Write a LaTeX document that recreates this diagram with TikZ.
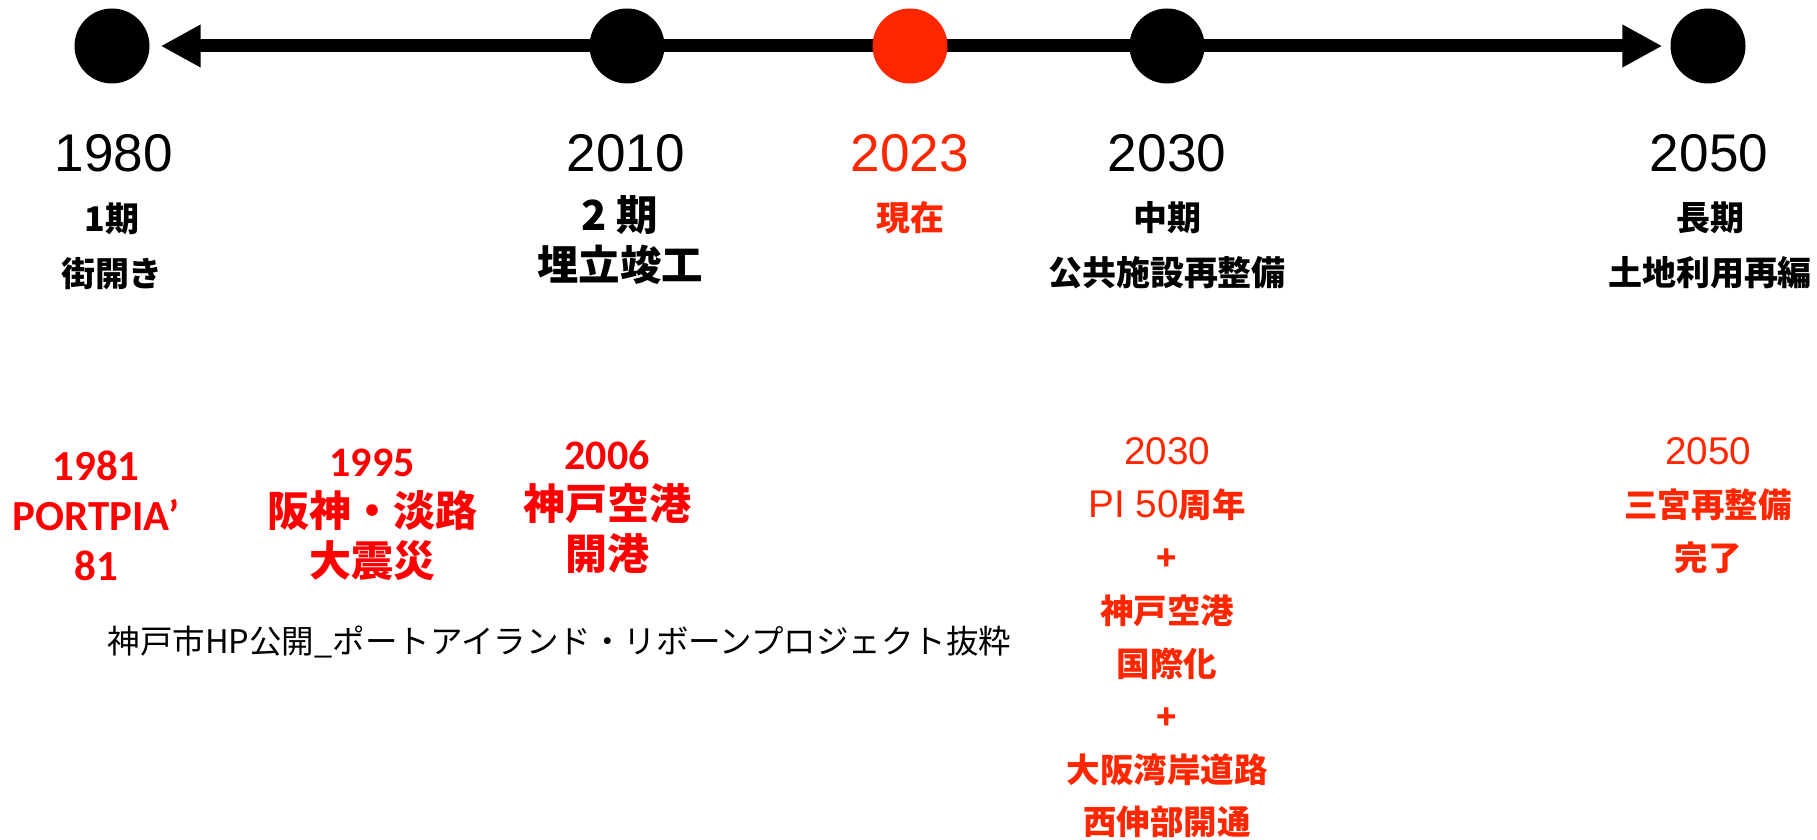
\documentclass[tikz,border=0pt]{standalone}
\usepackage{fontspec}
\setmainfont{Noto Sans CJK JP}
\newfontfamily\yearfont{Liberation Sans}
\newfontfamily\eventfont{Carlito}
\usetikzlibrary{arrows.meta}
\usetikzlibrary{backgrounds}
\definecolor{nowred}{RGB}{255,38,0}
\definecolor{eventred}{RGB}{255,0,0}
\newcommand{\dotsize}{7.5mm}

\begin{document}
\begin{tikzpicture}[x=0.1mm,y=-0.1mm]
    \useasboundingbox (0,0) rectangle (1817,840);

    \begin{scope}[every node/.style={circle,fill=black,minimum size=\dotsize,inner sep=0pt}]
        \node (c1980) at (112,46) {};
        \node (c2010) at (627,46) {};
        \node[fill=nowred] (c2023) at (910,46) {};
        \node (c2030) at (1167,46) {};
        \node (c2050) at (1708,46) {};
    \end{scope}

    \begin{scope}[on background layer, >={Triangle[length=4mm,width=4mm]},
        every edge/.style={draw=black,line width=1.3mm}]
        \path [<->] (c1980) edge[shorten <=1.05mm,shorten >=0.75mm] (c2050);
    \end{scope}

    % years on the line
    \begin{scope}[every node/.style={inner sep=0pt,font={\yearfont\fontsize{15.1}{18}\selectfont}}]
        \node (y1980) at (114,153) {1980};
        \node (y2010) at (626,153) {2010};
        \node[text=nowred] (y2023) at (910,153) {2023};
        \node (y2030) at (1167,153) {2030};
        \node (y2050) at (1709,153) {2050};
    \end{scope}

    % phases
    \begin{scope}[every node/.style={inner sep=0pt,anchor=north,align=center,
        font={\bfseries\fontsize{9.67}{15.65}\selectfont}}]
        \node (p1980) at (112,202) {1期\\街開き};
        \node[font={\bfseries\fontsize{11.8}{14.2}\selectfont}] (p2010) at (620,195) {2 期\\埋立竣工};
        \node[text=nowred] (p2023) at (910,201) {現在};
        \node (p2030) at (1167,201) {中期\\公共施設再整備};
        \node (p2050) at (1710,201) {長期\\土地利用再編};
    \end{scope}

    % past events
    \begin{scope}[every node/.style={inner sep=0pt,anchor=north,align=center,text=eventred,
        font={\bfseries\fontsize{11.95}{14.3}\selectfont}}]
        \node[font={\eventfont\bfseries\fontsize{12.2}{14.3}\selectfont}] (e1981) at (96,450) {1981\\PORTPIA’\\81};
        \node (e1995) at (372,448) {{\eventfont 1995}\\阪神・淡路\\大震災};
        \node (e2006) at (607,440) {{\eventfont 2006}\\神戸空港\\開港};
    \end{scope}

    % future events
    \begin{scope}[every node/.style={inner sep=0pt,anchor=north,align=center,text=nowred,
        font={\bfseries\fontsize{9.53}{15.05}\selectfont}}]
        \node (e2030) at (1167,437) {{\yearfont\mdseries\fontsize{11}{15.05}\selectfont 2030}\\
            {\yearfont\mdseries\fontsize{11}{15.05}\selectfont PI 50}周年\\+\\神戸空港\\国際化\\+\\大阪湾岸道路\\西伸部開通};
        \node (e2050) at (1708,437) {{\yearfont\mdseries\fontsize{11}{15.05}\selectfont 2050}\\三宮再整備\\完了};
    \end{scope}

    \node[anchor=west,inner sep=0pt,font={\fontsize{9.25}{11}\selectfont}] (source) at (107,642)
        {神戸市HP公開\_ポートアイランド・リボーンプロジェクト抜粋};
\end{tikzpicture}
\end{document}
